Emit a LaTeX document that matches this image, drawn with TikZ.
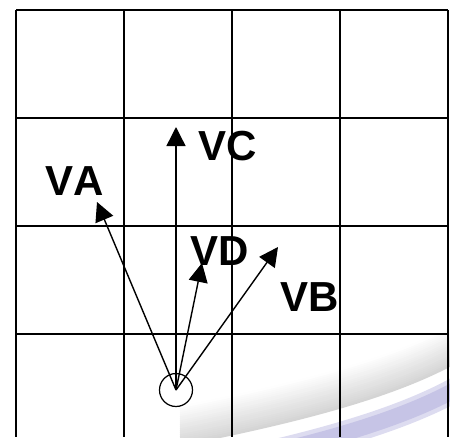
\documentclass[tikz,border=0pt]{standalone}
\usepackage{fontspec}
\setmainfont{Liberation Sans}[Kerning=Off]
\usepackage{xcolor}
\usetikzlibrary{arrows.meta}
\definecolor{swoosh}{RGB}{198,196,230}

\begin{document}
\begin{tikzpicture}[x=0.02cm, y=-0.02cm,
    grid/.style={draw=black, line width=1.1pt},
    vec/.style={draw, -{Triangle[length=0.38cm, width=0.38cm]}, line width=0.8pt},
    lbl/.style={inner sep=0pt, font=\fontsize{23.9}{28}\selectfont\bfseries},
    pivot/.style={circle, draw, line width=0.7pt, minimum size=0.66cm, inner sep=0pt}]

    \useasboundingbox (0,0) rectangle (450,437);

    % background swoosh
    \foreach \k in {0,...,19} {
        \pgfmathtruncatemacro{\shadeval}{34-\k*34/20}
        \draw[gray!\shadeval, line width=1.4pt, shift={(0,-2*\k)}]
            (180,445) .. controls (280,425) and (390,400) .. (460,360);
    }
    \draw[swoosh!60, line width=14pt, shift={(0,27)}]
        (180,445) .. controls (280,425) and (390,400) .. (460,360);
    \draw[swoosh, line width=9pt, shift={(0,27)}]
        (180,445) .. controls (280,425) and (390,400) .. (460,360);

    % grid
    \foreach \x in {16,124,232,340,448}
        \draw[grid] (\x,10) -- (\x,437);
    \foreach \y in {10,118,226,334}
        \draw[grid] (16,\y) -- (448,\y);

    \node[pivot] (o) at (176,390) {};
    \coordinate (tipA) at (97,202);
    \coordinate (tipB) at (278,247);
    \coordinate (tipC) at (176,127);
    \coordinate (tipD) at (202,263);

    \draw[vec] (o.center) -- (tipA);
    \draw[vec] (o.center) -- (tipB);
    \draw[vec] (o.center) -- (tipC);
    \draw[vec] (o.center) -- (tipD);

    \node[lbl] (va) at (75,181) {VA};
    \node[lbl] (vb) at (310,297) {VB};
    \node[lbl] (vc) at (228,146) {VC};
    \node[lbl] (vd) at (220,251) {VD};
\end{tikzpicture}
\end{document}
